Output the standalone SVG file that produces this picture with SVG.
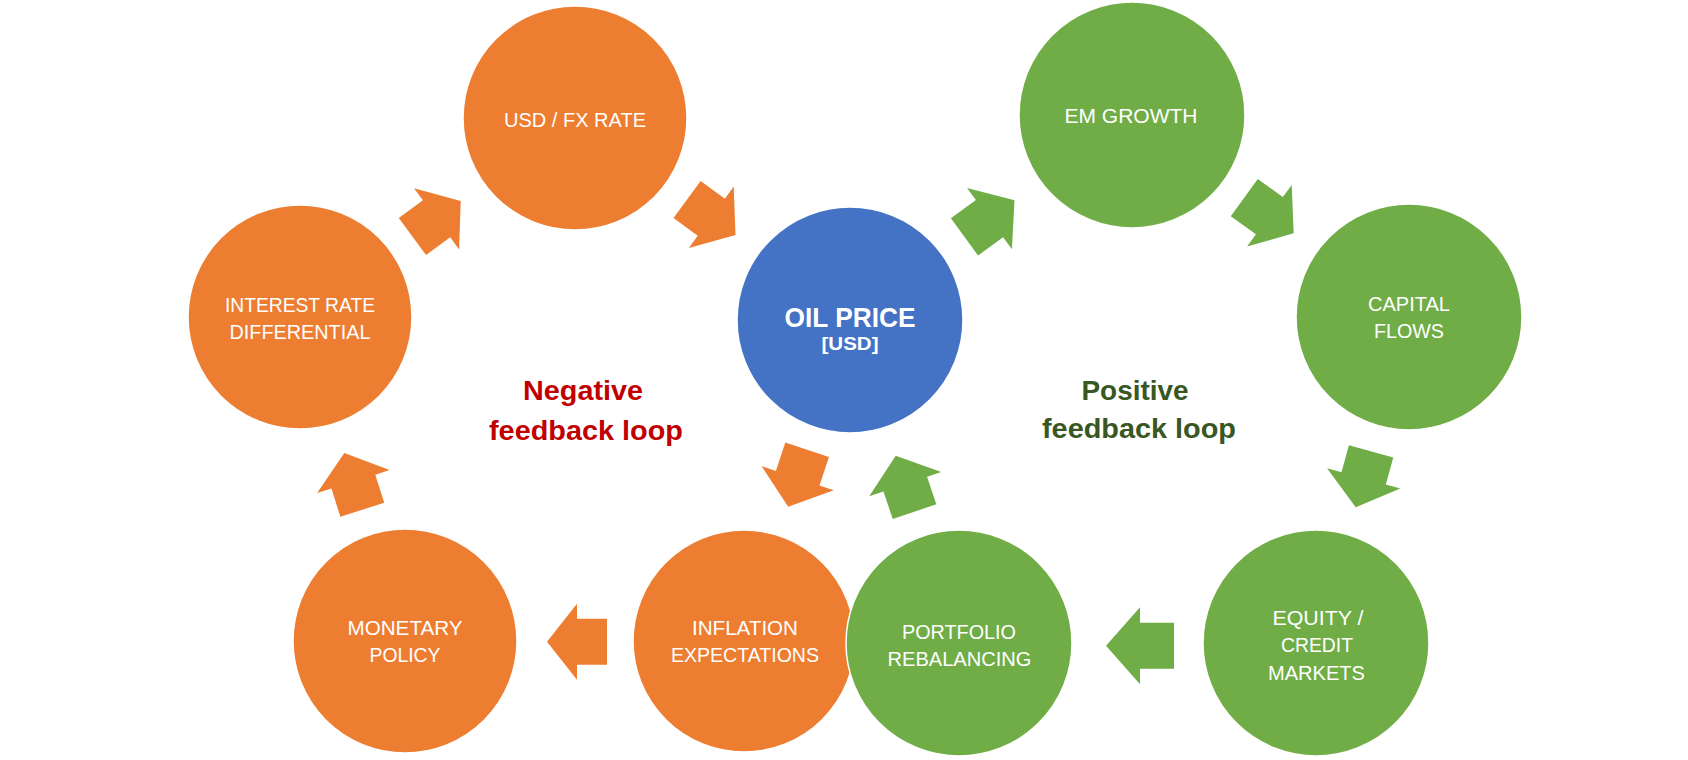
<svg xmlns="http://www.w3.org/2000/svg" width="1688" height="760" viewBox="0 0 1688 760">
<style>
.o{fill:#ED7D31;stroke:#fff;stroke-width:1.5}
.g{fill:#70AD47;stroke:#fff;stroke-width:1.5}
.b{fill:#4472C4;stroke:#fff;stroke-width:1.5}
.ao{fill:#ED7D31}
.ag{fill:#70AD47}
.t{font-family:"Liberation Sans",Arial,sans-serif;font-size:21px;fill:#fff;text-anchor:middle}
.tb{font-family:"Liberation Sans",Arial,sans-serif;font-weight:bold;text-anchor:middle}
</style>
<rect width="1688" height="760" fill="#fff"/>
<g id="connectors">
<polygon class="ao" transform="translate(460.7,201) rotate(-36.4)" points="0,0 -30,-38 -30,-23 -60,-23 -60,23 -30,23 -30,38"/>
<polygon class="ao" transform="translate(735.5,235) rotate(36.2)" points="0,0 -30,-38 -30,-23 -60,-23 -60,23 -30,23 -30,38"/>
<polygon class="ag" transform="translate(1014.5,200.3) rotate(-36.2)" points="0,0 -31,-38 -31,-23 -62,-23 -62,23 -31,23 -31,38"/>
<polygon class="ag" transform="translate(1293.7,233.3) rotate(35.9)" points="0,0 -30,-38 -30,-23 -61,-23 -61,23 -30,23 -30,38"/>
<polygon class="ag" transform="translate(1355.7,507.3) rotate(105.4)" points="0,0 -30,-38 -30,-23 -58,-23 -58,23 -30,23 -30,38"/>
<polygon class="ag" transform="translate(1106,645.7) rotate(180)" points="0,0 -34,-38.5 -34,-23 -68,-23 -68,23 -34,23 -34,38.5"/>
<polygon class="ag" transform="translate(895.7,455.7) rotate(-108.6)" points="0,0 -30,-38 -30,-23 -59,-23 -59,23 -30,23 -30,38"/>
<polygon class="ao" transform="translate(788.2,506.7) rotate(108.4)" points="0,0 -30,-38 -30,-23 -60,-23 -60,23 -30,23 -30,38"/>
<polygon class="ao" transform="translate(547,641.7) rotate(180)" points="0,0 -30,-38 -30,-23 -60,-23 -60,23 -30,23 -30,38"/>
<polygon class="ao" transform="translate(344.3,453) rotate(-107.6)" points="0,0 -30,-38 -30,-23 -59.5,-23 -59.5,23 -30,23 -30,38"/>
</g>
<g id="usd-fx">
<circle class="o" cx="575" cy="118" r="112"/>
<text class="t" x="575" y="127" textLength="142" lengthAdjust="spacingAndGlyphs">USD / FX RATE</text>
</g>
<g id="em-growth">
<circle class="g" cx="1132" cy="115" r="113"/>
<text class="t" x="1131" y="123" textLength="133" lengthAdjust="spacingAndGlyphs">EM GROWTH</text>
</g>
<g id="capital-flows">
<circle class="g" cx="1409" cy="317" r="113"/>
<text class="t" x="1409" y="311" textLength="82" lengthAdjust="spacingAndGlyphs">CAPITAL</text>
<text class="t" x="1409" y="338" textLength="70" lengthAdjust="spacingAndGlyphs">FLOWS</text>
</g>
<g id="interest-rate">
<circle class="o" cx="300" cy="317" r="112"/>
<text class="t" x="300" y="312" textLength="150" lengthAdjust="spacingAndGlyphs">INTEREST RATE</text>
<text class="t" x="300" y="338.7" textLength="141" lengthAdjust="spacingAndGlyphs">DIFFERENTIAL</text>
</g>
<g id="oil-price">
<circle class="b" cx="850" cy="320" r="113"/>
<text class="tb" x="850" y="327" font-size="28" fill="#fff" textLength="131" lengthAdjust="spacingAndGlyphs">OIL PRICE</text>
<text class="tb" x="850" y="350" font-size="18" fill="#fff" textLength="57" lengthAdjust="spacingAndGlyphs">[USD]</text>
</g>
<g id="monetary-policy">
<circle class="o" cx="405" cy="641" r="112"/>
<text class="t" x="405" y="635" textLength="115" lengthAdjust="spacingAndGlyphs">MONETARY</text>
<text class="t" x="405" y="662" textLength="71" lengthAdjust="spacingAndGlyphs">POLICY</text>
</g>
<g id="inflation-expectations">
<circle class="o" cx="744" cy="641" r="111"/>
<text class="t" x="745" y="635" textLength="106" lengthAdjust="spacingAndGlyphs">INFLATION</text>
<text class="t" x="745" y="662" textLength="148" lengthAdjust="spacingAndGlyphs">EXPECTATIONS</text>
</g>
<g id="portfolio-rebalancing">
<circle class="g" cx="959" cy="643" r="113"/>
<text class="t" x="959" y="639" textLength="114" lengthAdjust="spacingAndGlyphs">PORTFOLIO</text>
<text class="t" x="959.5" y="666" textLength="144" lengthAdjust="spacingAndGlyphs">REBALANCING</text>
</g>
<g id="equity-credit">
<circle class="g" cx="1316" cy="643" r="113"/>
<text class="t" x="1318" y="625" textLength="91" lengthAdjust="spacingAndGlyphs">EQUITY /</text>
<text class="t" x="1317" y="652" textLength="72" lengthAdjust="spacingAndGlyphs">CREDIT</text>
<text class="t" x="1316.5" y="680" textLength="97" lengthAdjust="spacingAndGlyphs">MARKETS</text>
</g>
<g id="negative-label">
<text class="tb" x="583" y="400" font-size="28" fill="#C00000" textLength="120" lengthAdjust="spacingAndGlyphs">Negative</text>
<text class="tb" x="586" y="440" font-size="28" fill="#C00000" textLength="194" lengthAdjust="spacingAndGlyphs">feedback loop</text>
</g>
<g id="positive-label">
<text class="tb" x="1135" y="400" font-size="28" fill="#385723" textLength="107" lengthAdjust="spacingAndGlyphs">Positive</text>
<text class="tb" x="1139" y="438" font-size="28" fill="#385723" textLength="194" lengthAdjust="spacingAndGlyphs">feedback loop</text>
</g>
</svg>
